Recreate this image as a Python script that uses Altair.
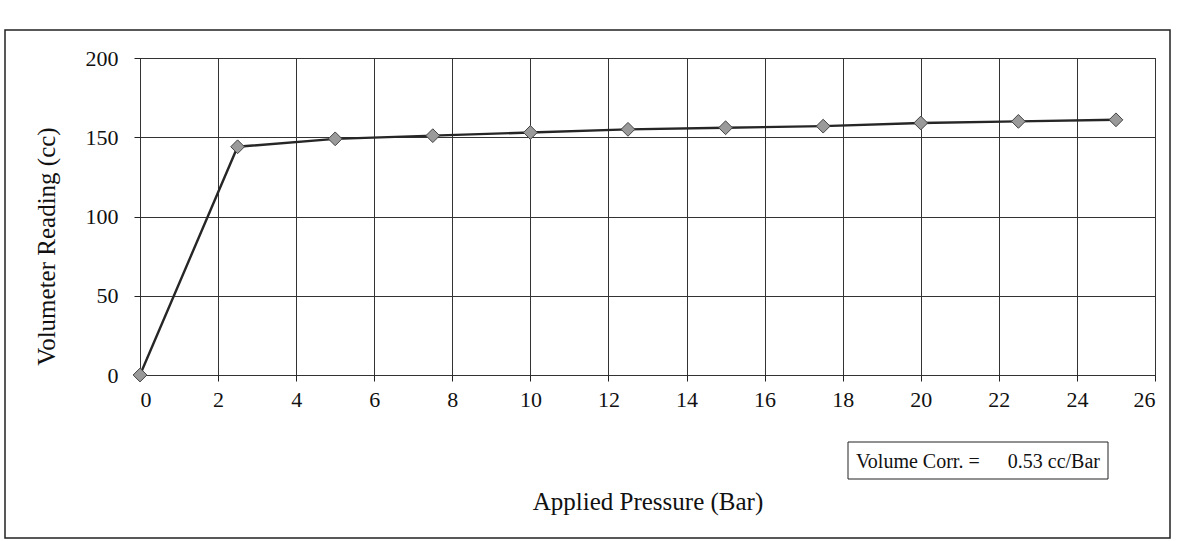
import altair as alt
import pandas as pd

# Volumeter calibration readings
pressure_bar = [0, 2.5, 5, 7.5, 10, 12.5, 15, 17.5, 20, 22.5, 25]
volume_cc = [0, 144, 149, 151, 153, 155, 156, 157, 159, 160, 161]
x_ticks = [0, 2, 4, 6, 8, 10, 12, 14, 16, 18, 20, 22, 24, 26]
y_ticks = [0, 50, 100, 150, 200]
note_label = "Volume Corr. ="
note_value = "0.53 cc/Bar"

df = pd.DataFrame({"p": pressure_bar, "v": volume_cc})

FONT = "Liberation Serif"
W, H = 1015, 317

x_enc = alt.X(
    "p:Q",
    scale=alt.Scale(domain=[0, 26], nice=False, zero=True),
    axis=alt.Axis(
        values=x_ticks, title="Applied Pressure (Bar)", titleFontSize=25,
        titleFont=FONT, titleFontWeight="normal", titleColor="#111",
        titlePadding=79, labelFont=FONT, labelFontSize=22, labelColor="#111",
        labelPadding=8, tickSize=6, tickColor="#222", domain=False,
        grid=True, gridColor="#333", gridWidth=1,
    ),
)
y_enc = alt.Y(
    "v:Q",
    scale=alt.Scale(domain=[0, 200], nice=False),
    axis=alt.Axis(
        values=y_ticks, title="Volumeter Reading (cc)", titleFontSize=25,
        titleFont=FONT, titleFontWeight="normal", titleColor="#111",
        titlePadding=26, titleY=188, labelFont=FONT, labelFontSize=22,
        labelColor="#111", labelPadding=16, tickSize=6, tickColor="#222",
        domain=False, grid=True, gridColor="#333", gridWidth=1,
    ),
)

line = alt.Chart(df).mark_line(color="#262626", strokeWidth=2.4).encode(x=x_enc, y=y_enc)
points = alt.Chart(df).mark_point(
    shape="diamond", size=190, filled=True, fill="#9a9a9a",
    stroke="#444", strokeWidth=1, opacity=1,
).encode(x="p:Q", y="v:Q")

one = pd.DataFrame({"k": [0]})

# Outer frame around the whole chart
frame = alt.Chart(one).mark_rect(
    fill=None, stroke="#222", strokeWidth=1.5
).encode(x=alt.value(-135), x2=alt.value(1030), y=alt.value(-28), y2=alt.value(480))

# Correction note box
note_box = alt.Chart(one).mark_rect(
    fill="white", stroke="#222", strokeWidth=1
).encode(x=alt.value(708), x2=alt.value(968), y=alt.value(384), y2=alt.value(421))
note_a = alt.Chart(pd.DataFrame({"t": [note_label]})).mark_text(
    font=FONT, fontSize=20, color="#111", align="left", baseline="middle"
).encode(x=alt.value(716), y=alt.value(404), text="t:N")
note_b = alt.Chart(pd.DataFrame({"t": [note_value]})).mark_text(
    font=FONT, fontSize=20, color="#111", align="right", baseline="middle"
).encode(x=alt.value(960), y=alt.value(404), text="t:N")

chart = alt.layer(frame, line, points, note_box, note_a, note_b).properties(
    width=W, height=H,
    autosize=alt.AutoSizeParams(type="none"),
    padding={"left": 140, "top": 58, "right": 22, "bottom": 166},
    background="white",
).configure_view(stroke="#333", strokeWidth=1)

chart.save("out.html", embed_options={"renderer": "svg", "actions": False})
